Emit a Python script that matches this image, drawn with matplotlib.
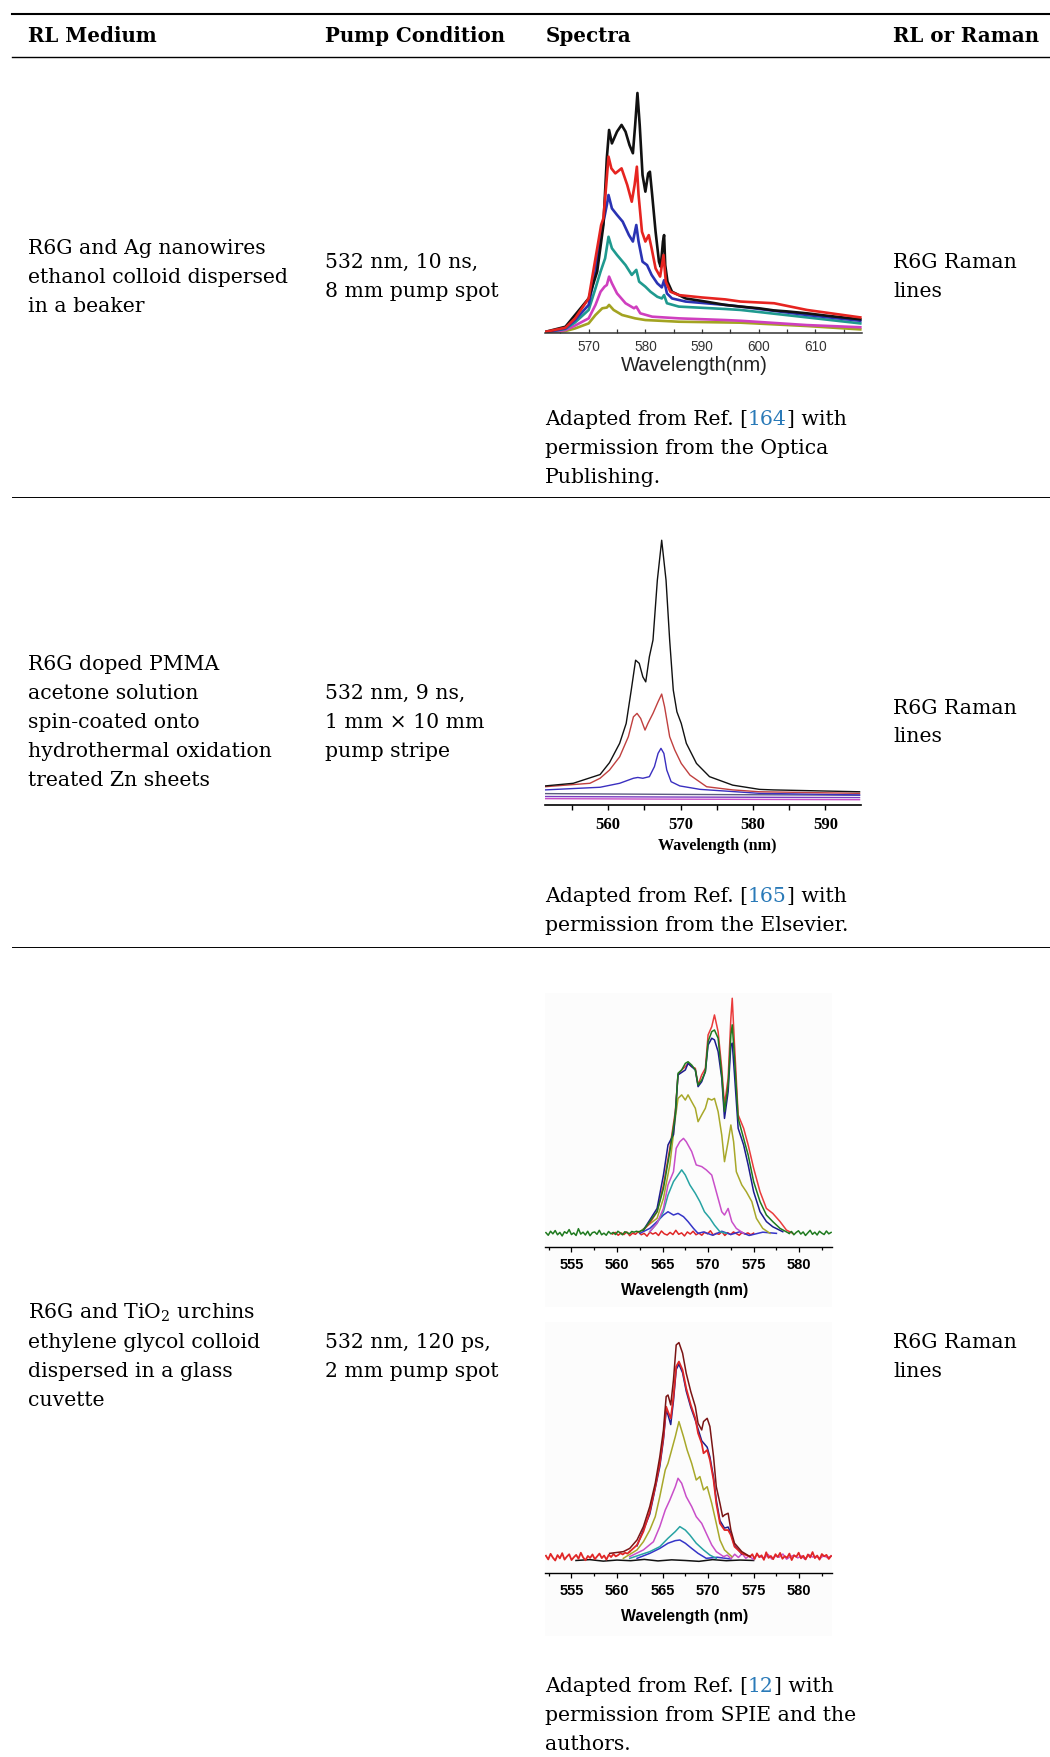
import numpy as np
import matplotlib
matplotlib.use("Agg")
import matplotlib.pyplot as plt
from matplotlib.ticker import MultipleLocator
from matplotlib.patches import Rectangle

plt.rcParams['font.family'] = 'DejaVu Serif'
plt.rcParams['mathtext.fontset'] = 'dejavuserif'

W, H = 1050, 1757
FS = 14.7
LINK = '#2a7ab8'

# ---------------- table text ----------------
headers = ["RL Medium", "Pump Condition", "Spectra", "RL or Raman"]
media = [
    ["R6G and Ag nanowires", "ethanol colloid dispersed", "in a beaker"],
    ["R6G doped PMMA", "acetone solution", "spin-coated onto",
     "hydrothermal oxidation", "treated Zn sheets"],
    ["R6G and TiO$_2$ urchins", "ethylene glycol colloid",
     "dispersed in a glass", "cuvette"],
]
pumps = [
    ["532 nm, 10 ns,", "8 mm pump spot"],
    ["532 nm, 9 ns,", "1 mm \u00d7 10 mm", "pump stripe"],
    ["532 nm, 120 ps,", "2 mm pump spot"],
]
kinds = [["R6G Raman", "lines"], ["R6G Raman", "lines"], ["R6G Raman", "lines"]]
refs = ["164", "165", "12"]
captions = [
    ["Adapted from Ref. [{}] with", "permission from the Optica", "Publishing."],
    ["Adapted from Ref. [{}] with", "permission from the Elsevier."],
    ["Adapted from Ref. [{}] with", "permission from SPIE and the", "authors."],
]

# ---------------- spectrum 1: Ag nanowires ----------------
ag_black_wl = [562.4, 565.9, 567.6, 570.0, 571.5, 572.6, 573.2, 573.6, 574.1, 575.0, 575.8,
               576.5, 577.2, 577.8, 578.2, 578.6, 579.0, 579.5, 580.0, 580.5, 580.8, 581.2,
               581.8, 582.4, 582.7, 583.1, 583.3, 583.5, 583.9, 584.7, 587.1, 590.6, 594.1,
               596.8, 600.0, 602.7, 605.0, 608.5, 612.0, 617.9]
ag_black_i = [0.5, 2.6, 7.5, 14.4, 25.6, 45.0, 72.8, 84.6, 79.0, 83.9, 86.7, 83.9, 78.3,
              74.9, 86.7, 100.0, 86.7, 65.8, 58.9, 66.5, 67.2, 57.5, 42.2, 29.7, 27.6, 38.1,
              40.8, 28.3, 21.4, 17.2, 14.4, 13.1, 11.7, 11.0, 10.3, 9.4, 9.0, 8.2, 7.2, 5.7]
ag_red_wl = [562.4, 565.9, 567.6, 570.0, 571.2, 571.8, 572.2, 572.6, 573.1, 573.5, 574.0,
             574.7, 575.8, 576.8, 577.6, 578.1, 578.5, 578.8, 579.4, 580.0, 580.6, 581.1,
             581.8, 582.6, 583.2, 583.6, 584.4, 585.9, 590.0, 594.1, 596.8, 602.7, 608.5, 617.9]
ag_red_i = [0.5, 2.2, 6.1, 14.4, 31.1, 39.4, 45.0, 47.8, 61.7, 73.5, 68.6, 66.5, 68.6, 61.7,
            54.7, 61.7, 69.3, 57.5, 42.2, 38.1, 40.8, 35.3, 26.9, 23.5, 32.5, 21.4, 17.2,
            15.8, 14.8, 14.0, 13.1, 12.4, 9.6, 6.5]
ag_blue_wl = [562.4, 565.9, 567.6, 570.0, 571.2, 571.8, 572.5, 573.2, 573.5, 574.1, 575.0,
              576.0, 577.1, 577.8, 578.4, 578.8, 579.5, 580.3, 581.1, 582.1, 582.9, 583.3,
              583.8, 584.7, 587.1, 594.1, 596.8, 608.5, 617.9]
ag_blue_i = [0.3, 1.9, 5.4, 11.7, 25.6, 36.7, 45.0, 53.3, 57.5, 51.9, 49.2, 46.4, 40.8,
             38.1, 45.0, 38.1, 29.7, 28.3, 24.2, 20.7, 19.0, 22.0, 16.5, 14.4, 13.1, 11.7,
             11.0, 7.5, 5.1]
ag_teal_wl = [562.4, 565.9, 567.6, 570.0, 571.2, 572.1, 572.9, 573.5, 574.1, 575.0, 576.5,
              577.6, 578.4, 578.9, 580.0, 580.9, 582.1, 582.9, 583.3, 583.8, 585.9, 594.1,
              596.8, 608.5, 617.9]
ag_teal_i = [0.3, 1.7, 4.4, 9.6, 18.6, 25.6, 31.1, 40.1, 35.3, 32.5, 28.3, 24.2, 26.3, 21.4,
             19.3, 17.2, 15.1, 14.4, 15.8, 12.4, 11.0, 10.0, 9.6, 6.5, 4.0]
ag_pink_wl = [562.4, 565.9, 567.6, 570.0, 571.2, 572.1, 572.8, 573.2, 573.6, 574.1, 575.0,
              576.5, 578.0, 578.4, 579.1, 581.2, 585.9, 594.1, 596.8, 608.5, 617.9]
ag_pink_i = [0.2, 1.2, 3.1, 6.1, 11.7, 17.2, 19.3, 20.0, 23.5, 20.7, 16.5, 12.4, 10.3, 11.0,
             8.2, 6.8, 6.1, 5.4, 5.1, 3.3, 2.4]
ag_olive_wl = [562.4, 565.9, 567.6, 570.0, 571.2, 572.4, 573.2, 573.6, 574.4, 575.9, 578.2,
               580.0, 585.9, 594.1, 596.8, 608.5, 617.9]
ag_olive_i = [0.1, 0.8, 1.9, 4.0, 7.5, 10.3, 10.6, 11.7, 9.6, 7.5, 6.1, 5.4, 4.7, 4.4, 4.3,
              2.9, 1.5]

# ---------------- spectrum 2: PMMA on Zn ----------------
zn_black_wl = [551.3, 555.2, 558.9, 560.2, 561.6, 562.5, 563.2, 563.8, 564.3, 564.8, 565.2,
               565.7, 566.2, 566.8, 567.4, 568.0, 568.5, 569.0, 569.5, 570.1, 570.8, 572.2,
               574.0, 577.2, 580.9, 582.8, 594.7]
zn_black_i = [7.2, 8.2, 11.5, 16.0, 23.3, 30.8, 43.4, 54.7, 53.5, 48.4, 46.5, 56.0, 62.3,
              84.9, 100.0, 84.9, 62.3, 43.4, 35.2, 30.8, 23.3, 15.7, 10.7, 7.5, 5.9, 5.7, 5.0]
zn_red_wl = [551.3, 557.5, 558.9, 560.2, 561.6, 562.8, 563.5, 564.0, 564.5, 565.1, 565.5,
             566.2, 566.9, 567.4, 567.8, 568.5, 569.2, 570.1, 571.3, 573.6, 577.2, 580.9, 594.7]
zn_red_i = [6.9, 8.2, 10.1, 13.2, 18.2, 25.8, 33.3, 34.6, 32.7, 28.3, 30.8, 34.6, 39.0,
            41.9, 37.1, 25.8, 20.8, 15.7, 11.3, 6.9, 5.7, 5.0, 4.4]
zn_blue_wl = [551.3, 558.9, 561.6, 563.5, 564.1, 564.8, 565.7, 566.4, 566.9, 567.3, 567.7,
              568.1, 568.7, 569.9, 572.7, 580.9, 594.7]
zn_blue_i = [5.7, 6.7, 8.2, 10.1, 10.4, 10.1, 10.7, 14.5, 19.5, 21.4, 19.5, 13.2, 8.8, 7.2,
             5.9, 4.4, 3.8]
zn_flat_wl = [551.3, 570.0, 594.7]
zn_slate_i = [4.3, 4.0, 3.7]
zn_violet_i = [3.2, 3.0, 2.8]
zn_magenta_i = [2.4, 2.2, 2.0]

# ---------------- spectrum 3a: TiO2 urchins ----------------
ti_red_wl = [562.9, 563.6, 564.4, 565.1, 565.8, 566.4, 566.7, 567.1, 567.5, 567.8, 568.2,
             568.6, 568.9, 569.3, 569.7, 570.0, 570.4, 570.7, 571.1, 571.5, 571.8, 572.2,
             572.5, 572.65, 572.9, 573.3, 573.9, 574.4, 575.0, 575.7, 576.4, 577.1, 577.9,
             578.6, 579.3]
ti_red_i = [1.4, 4.3, 9.2, 20.6, 36.2, 51.8, 67.4, 69.5, 70.9, 72.3, 70.9, 70.2, 63.1, 67.4,
            70.2, 84.4, 87.9, 92.9, 85.8, 70.2, 54.6, 66.0, 91.5, 100.0, 80.1, 50.4, 44.7,
            37.6, 27.7, 17.7, 10.6, 8.5, 5.0, 1.4, 0.0]
ti_green_wl = [562.9, 564.4, 565.1, 565.8, 566.4, 566.7, 567.1, 567.5, 567.8, 568.2, 568.6,
               568.9, 569.3, 569.7, 570.0, 570.4, 570.7, 571.1, 571.5, 571.8, 572.2, 572.5,
               572.65, 572.9, 573.3, 573.9, 574.4, 575.0, 575.7, 576.4, 577.1, 577.9, 578.9]
ti_green_i = [1.4, 9.2, 19.1, 34.8, 50.4, 68.1, 69.5, 72.3, 73.0, 71.6, 69.5, 63.1, 65.2,
              68.8, 81.6, 85.8, 86.5, 83.0, 67.4, 51.8, 63.1, 84.4, 88.7, 74.5, 48.9, 40.4,
              33.3, 22.0, 13.5, 7.8, 5.0, 2.1, 0.0]
ti_green_left = [0.3, -0.8, 0.9, -0.2, 1.2, -0.6, 0.4, -1.1, 0.7, 0.0, 1.6, -0.5, 0.2, -0.9,
                 2.0, -0.3, 0.5, -0.7, 0.9, -1.0, 0.3, 0.6, -0.4, 1.3, -0.6, 0.1, -0.8, 0.8,
                 -0.2, 0.4, -0.5, 0.9, 0.2, -0.6, 0.7, 0.3, -0.2, 0.8, 0.5, 0.9, 0.6, 1.1, 1.4]
ti_green_right = [0.0, 0.8, -0.6, 0.4, 1.1, -0.3, 0.6, -0.9, 0.2, 1.3, -0.4, 0.5, -0.7, 0.9,
                  0.1, -0.5, 1.0, -0.2, 0.4]
ti_navy_wl = [562.9, 564.4, 565.1, 565.6, 566.2, 566.4, 566.7, 567.5, 567.8, 568.6, 568.9,
              569.3, 569.7, 570.0, 570.4, 570.7, 571.1, 571.5, 571.8, 572.2, 572.5, 572.65,
              572.9, 573.3, 573.9, 574.4, 575.0, 575.7, 576.4, 577.1, 578.2]
ti_navy_i = [1.4, 10.6, 24.8, 37.6, 42.0, 50.4, 67.4, 69.5, 72.3, 69.5, 62.4, 64.5, 68.8,
             80.1, 83.0, 82.3, 77.3, 66.0, 48.9, 60.3, 80.1, 80.9, 67.4, 44.7, 37.6, 29.1,
             17.7, 9.2, 5.0, 2.8, 0.7]
ti_olive_wl = [562.5, 564.4, 565.1, 565.8, 566.4, 566.7, 567.1, 567.5, 567.8, 568.2, 568.6,
               568.9, 569.3, 569.7, 570.0, 570.4, 570.7, 571.1, 571.5, 571.8, 572.2, 572.5,
               572.8, 573.1, 573.7, 574.2, 574.8, 575.3, 576.0, 576.8]
ti_olive_i = [0.7, 6.4, 14.9, 29.1, 48.9, 57.4, 58.9, 56.7, 58.9, 56.0, 53.2, 47.5, 50.4,
              53.2, 57.4, 56.7, 57.4, 51.8, 41.8, 30.5, 39.0, 46.1, 39.0, 26.2, 20.6, 17.7,
              13.5, 6.4, 2.1, 0.0]
ti_magenta_wl = [563.6, 564.4, 565.1, 565.6, 566.2, 566.5, 566.9, 567.3, 567.6, 568.2, 568.7,
                 569.3, 569.8, 570.4, 570.9, 571.5, 571.8, 572.2, 572.6, 573.1, 573.9]
ti_magenta_i = [0.7, 4.3, 10.6, 20.6, 26.2, 36.2, 39.0, 40.4, 39.0, 34.8, 29.1, 28.4, 27.0,
                24.8, 17.7, 9.2, 7.8, 10.6, 5.0, 2.1, 0.0]
ti_teal_wl = [563.6, 564.4, 565.1, 565.6, 566.2, 566.7, 567.1, 567.5, 568.0, 568.6, 569.1,
              569.6, 570.2, 570.7, 571.3, 572.0]
ti_teal_i = [0.7, 4.3, 9.2, 16.3, 22.0, 24.8, 27.0, 24.8, 20.6, 17.0, 13.5, 9.2, 6.4, 3.5,
             0.7, 0.0]
ti_blue_wl = [562.5, 563.6, 564.4, 565.1, 565.6, 566.2, 566.7, 567.3, 567.8, 568.4, 568.9,
              569.5, 570.5, 571.5, 572.5, 573.5, 574.5, 576.0, 577.5]
ti_blue_i = [0.0, 2.1, 5.0, 7.8, 9.2, 7.8, 8.5, 7.1, 5.0, 2.1, 0.0, 0.6, -0.8, 0.9, -0.5,
             0.7, -0.9, 0.5, 0.0]
ti_redflat_i = [-0.3, 0.4, -0.8, 0.2, -0.5, 0.6, -1.0, 0.1, -0.4, 0.8, -0.6, 0.0, -1.2, 0.5,
                -0.3, 0.3, -0.9, 1.0, -0.2, -0.7, 0.4, -0.5, 1.3, -0.4, 0.2, -1.1, 0.6, -0.3,
                0.9, -0.6, 0.1, -0.8, 0.5, -0.2, 1.1, -0.7, 0.0, -0.4, 0.7, -0.9, 0.3, -0.5,
                0.6, -0.1, -0.8, 0.4, -0.3, 0.2, -0.6, 0.1]

# ---------------- spectrum 3b: TiO2 urchins, second set ----------------
tb_maroon_wl = [559.2, 560.7, 561.4, 562.2, 562.9, 563.6, 564.2, 564.7, 565.1, 565.4, 565.6,
                565.9, 566.2, 566.5, 566.8, 567.2, 567.6, 568.1, 568.6, 568.9, 569.3, 569.5,
                569.9, 570.2, 570.6, 570.9, 571.3, 571.6, 571.8, 572.2, 572.5, 572.9, 573.7,
                574.6]
tb_maroon_i = [2.3, 3.1, 4.6, 8.5, 14.7, 24.0, 34.8, 47.1, 59.5, 75.0, 75.7, 71.1, 82.7,
               98.9, 100.0, 95.1, 85.8, 77.3, 70.3, 62.6, 59.5, 63.4, 64.9, 61.1, 47.1, 33.2,
               25.5, 19.3, 20.1, 20.9, 13.1, 7.0, 3.1, 0.8]
tb_red_wl = [561.4, 562.2, 562.9, 563.6, 564.2, 564.7, 565.1, 565.4, 565.6, 565.9, 566.2,
             566.5, 566.8, 567.2, 567.6, 568.1, 568.6, 568.9, 569.3, 569.5, 569.9, 570.2,
             570.6, 570.9, 571.3, 571.8, 572.2, 572.5, 572.9, 573.7, 574.6]
tb_red_i = [3.1, 6.2, 12.4, 21.6, 33.2, 44.0, 56.4, 70.3, 68.0, 64.9, 75.0, 88.9, 91.2,
            87.3, 78.8, 71.1, 64.9, 58.0, 53.3, 48.7, 50.2, 45.6, 36.3, 25.5, 16.2, 13.1,
            13.1, 10.8, 5.4, 2.3, 0.8]
tb_red_left = [1.2, -0.5, 2.1, 0.3, -1.0, 1.5, 0.0, 2.4, -0.6, 0.8, 1.9, -0.8, 0.5, 1.6,
               -0.2, 2.6, 0.4, -0.9, 1.1, 0.2, 1.8, -0.4, 0.9, 2.2, 0.1, 1.3, -0.6, 1.7, 0.6,
               2.0, 0.9, 1.5, 2.4, 1.8, 2.6, 2.2, 3.1]
tb_red_right = [0.8, 1.9, -0.3, 2.3, 0.5, 1.4, -0.7, 2.8, 0.2, 1.1, -0.4, 1.9, 0.6, 2.5,
                -0.2, 1.0, 0.3, 2.2, -0.8, 1.4, 0.7, 2.6, 0.0, 1.2, -0.5, 1.8, 0.4, 2.9, 0.1,
                1.3, -0.6, 2.0, 0.9, 1.6, -0.3, 1.1]
tb_navy_wl = [562.2, 563.6, 564.7, 565.1, 565.4, 565.6, 565.9, 566.2, 566.5, 566.8, 567.2,
              567.6, 568.1, 568.6, 569.3, 569.9, 570.2, 570.6, 570.9, 571.3, 571.8, 572.2,
              572.5, 572.9, 573.7]
tb_navy_i = [5.8, 20.5, 42.5, 55.0, 68.5, 66.5, 62.0, 73.0, 87.5, 90.0, 86.0, 77.5, 70.0,
             64.0, 54.5, 51.5, 47.0, 37.5, 27.0, 17.5, 14.0, 14.5, 11.5, 6.0, 2.0]
tb_olive_wl = [560.7, 562.2, 562.9, 563.6, 564.2, 564.7, 565.3, 565.6, 566.0, 566.4, 566.8,
               567.3, 567.7, 568.2, 568.7, 569.1, 569.5, 569.9, 570.4, 570.9, 571.3, 571.8,
               572.6]
tb_olive_i = [0.0, 3.9, 7.7, 13.1, 19.3, 28.6, 41.0, 44.0, 50.2, 56.4, 63.4, 56.4, 50.2,
              44.0, 36.3, 37.9, 31.7, 33.2, 25.5, 16.2, 8.5, 3.9, 0.8]
tb_magenta_wl = [561.4, 562.9, 564.0, 564.7, 565.3, 565.8, 566.4, 566.7, 567.1, 567.6, 568.2,
                 568.7, 569.3, 569.8, 570.4, 570.9, 571.7]
tb_magenta_i = [0.8, 3.9, 7.7, 14.7, 22.4, 27.0, 33.2, 37.1, 34.8, 28.6, 24.0, 19.3, 16.2,
                11.6, 6.2, 3.1, 0.8]
tb_magenta_right = [0.8, 1.5, -0.2, 1.9, 0.4, 2.2, 0.0, 1.2, -0.6, 1.6, 0.7, 0.1, 1.8, -0.3,
                    1.0, 0.5, 2.0, -0.4, 0.8, 1.4, 0.2, 1.1, -0.5, 1.7, 0.6, 0.9, -0.1, 1.3,
                    0.3, 1.0]
tb_teal_wl = [561.4, 563.6, 564.7, 565.6, 566.4, 566.9, 567.5, 568.0, 568.7, 569.5, 570.2,
              570.9]
tb_teal_i = [0.0, 3.1, 5.4, 9.3, 12.4, 14.7, 13.1, 10.8, 7.0, 3.9, 1.5, 0.0]
tb_blue_wl = [562.2, 563.6, 564.7, 565.6, 566.4, 566.9, 567.5, 568.2, 568.9, 569.8, 571.0,
              572.5]
tb_blue_i = [0.0, 2.3, 4.6, 7.0, 8.2, 8.5, 7.0, 4.6, 2.3, 0.0, 0.5, -0.3]
tb_black_wl = [555.5, 557.0, 558.5, 560.0, 561.5, 563.0, 564.5, 566.0, 567.5, 569.0, 570.5,
               572.0, 573.5, 575.0]
tb_black_i = [-1.0, -0.6, -1.3, -0.8, -1.1, -0.5, -1.2, -0.7, -1.0, -1.4, -0.6, -1.1, -0.8,
              -1.0]


fig = plt.figure(figsize=(W / 100, H / 100), dpi=100)
bg = fig.add_axes([0, 0, 1, 1])
bg.set_xlim(0, W)
bg.set_ylim(H, 0)
bg.axis('off')

# faint backdrop of the two scanned spectra in the last row
for y0, y1 in ((993, 1307), (1322, 1636)):
    bg.add_patch(Rectangle((545, y0), 287, y1 - y0, color='#fcfcfc', lw=0))

# rules of the table
bg.plot([12, W], [13.5, 13.5], color='black', lw=1.5)
bg.plot([12, W], [56.5, 56.5], color='black', lw=1.0)
for y in (496.5, 947):
    bg.plot([12, W], [y, y], color='black', lw=0.7)

col_x = [28, 325, 546, 893]
for x, h in zip(col_x, headers):
    bg.text(x, 41.5, h, fontsize=14.3, fontweight='bold', va='baseline')

LS = 28.9
row_mid = [282.6, 728.0, 1362.5]


def block(x, mid, lines):
    n = len(lines)
    for k, s in enumerate(lines):
        bg.text(x, mid + (k - (n - 1) / 2) * LS, s, fontsize=FS, va='baseline')


for mid, med, pump, kind in zip(row_mid, media, pumps, kinds):
    block(col_x[0], mid, med)
    block(col_x[1], mid, pump)
    block(col_x[3], mid, kind)

renderer = fig.canvas.get_renderer()
cap_top = [425.0, 902.0, 1692.0]
for y0, ref, cap in zip(cap_top, refs, captions):
    head, tail = cap[0].split("{}")
    x = 545
    for s, c in ((head, 'black'), (ref, LINK), (tail, 'black')):
        t = bg.text(x, y0, s, fontsize=FS, va='baseline', color=c)
        x += t.get_window_extent(renderer=renderer).width
    for k, s in enumerate(cap[1:], start=1):
        bg.text(545, y0 + k * LS, s, fontsize=FS, va='baseline')


def spec_axes(left, top, right, bottom):
    ax = fig.add_axes([left / W, 1 - bottom / H, (right - left) / W, (bottom - top) / H])
    ax.set_facecolor('none')
    for side in ('top', 'right', 'left'):
        ax.spines[side].set_visible(False)
    ax.set_yticks([])
    return ax


# spectrum 1
ax1 = spec_axes(545, 81, 862, 333)
sans = 'Liberation Sans'
for wl, inten, col in ((ag_olive_wl, ag_olive_i, '#a3a321'), (ag_pink_wl, ag_pink_i, '#cf3fbf'),
                       (ag_teal_wl, ag_teal_i, '#1f9a8f'), (ag_blue_wl, ag_blue_i, '#2a33b3'),
                       (ag_black_wl, ag_black_i, '#111111'), (ag_red_wl, ag_red_i, '#e62420')):
    ax1.plot(wl, inten, color=col, lw=1.9, solid_joinstyle='round')
ax1.set_xlim(562.3, 618.2)
ax1.set_ylim(0, 105)
ax1.xaxis.set_major_locator(MultipleLocator(10))
ax1.xaxis.set_minor_locator(MultipleLocator(5))
ax1.tick_params(axis='x', which='both', direction='in', length=3, width=0.9, pad=5.0,
                labelsize=9.8, colors='#333333')
ax1.spines['bottom'].set_linewidth(1.1)
ax1.spines['bottom'].set_color('#333333')
for lab in ax1.get_xticklabels():
    lab.set_family(sans)
ax1.set_xlabel("Wavelength(nm)", family=sans, fontsize=14.5, labelpad=1.5, color='#222222')
ax1.xaxis.label.set_x(0.4725)

# spectrum 2
ax2 = spec_axes(545, 527, 861, 805)
serif = 'Liberation Serif'
ax2.plot(zn_flat_wl, zn_magenta_i, color='#c64cc6', lw=1.0)
ax2.plot(zn_flat_wl, zn_violet_i, color='#7b3cc0', lw=1.0)
ax2.plot(zn_flat_wl, zn_slate_i, color='#5c5c80', lw=1.0)
ax2.plot(zn_blue_wl, zn_blue_i, color='#3a2fc0', lw=1.0)
ax2.plot(zn_red_wl, zn_red_i, color='#c0403f', lw=1.0)
ax2.plot(zn_black_wl, zn_black_i, color='#111111', lw=1.0)
ax2.set_xlim(551.3, 594.9)
ax2.set_ylim(0, 105)
ax2.xaxis.set_major_locator(MultipleLocator(10))
ax2.xaxis.set_minor_locator(MultipleLocator(5))
ax2.tick_params(axis='x', which='both', direction='out', length=3.6, width=1.0, pad=5.0,
                labelsize=12)
ax2.spines['bottom'].set_linewidth(1.2)
for lab in ax2.get_xticklabels():
    lab.set_family(serif)
    lab.set_fontweight('bold')
ax2.set_xlabel("Wavelength (nm)", family=serif, fontweight='bold', fontsize=11.6, labelpad=3.3)
ax2.xaxis.label.set_x(0.545)


def ti_axes(top, bottom, ylo):
    ax = spec_axes(545, top, 832, bottom)
    ax.set_xlim(552.1, 583.6)
    ax.set_ylim(ylo, 105)
    ax.xaxis.set_major_locator(MultipleLocator(5))
    ax.xaxis.set_minor_locator(MultipleLocator(2.5))
    ax.tick_params(axis='x', which='major', length=3.4)
    ax.tick_params(axis='x', which='minor', length=2.4)
    ax.tick_params(axis='x', which='both', direction='out', width=0.9, pad=4.4,
                   labelsize=10.5)
    ax.spines['bottom'].set_linewidth(1.0)
    for lab in ax.get_xticklabels():
        lab.set_family(sans)
        lab.set_fontweight('bold')
    ax.set_xlabel("Wavelength (nm)", family=sans, fontweight='bold', fontsize=11.4,
                  labelpad=8.0)
    ax.xaxis.label.set_x(0.487)
    return ax


# spectrum 3a
ax3 = ti_axes(986.5, 1247, -5.8)
lw3 = 1.1
ax3.plot(np.linspace(559.5, 575.0, len(ti_redflat_i)), ti_redflat_i, color='#e02626', lw=lw3)
ax3.plot(ti_blue_wl, ti_blue_i, color='#3535c8', lw=lw3)
ax3.plot(ti_teal_wl, ti_teal_i, color='#27a3a3', lw=lw3)
ax3.plot(ti_magenta_wl, ti_magenta_i, color='#c94fc9', lw=lw3)
ax3.plot(ti_olive_wl, ti_olive_i, color='#a8a82a', lw=lw3)
ax3.plot(ti_red_wl, ti_red_i, color='#ea3b3b', lw=lw3)
ax3.plot(ti_navy_wl, ti_navy_i, color='#1c1c8e', lw=lw3)
ax3.plot(ti_green_wl, ti_green_i, color='#1f7a1f', lw=lw3)
ax3.plot(np.linspace(552.2, 562.9, len(ti_green_left)), ti_green_left, color='#1f7a1f', lw=lw3)
ax3.plot(np.linspace(578.9, 583.5, len(ti_green_right)), ti_green_right, color='#1f7a1f', lw=lw3)

# spectrum 3b
ax4 = ti_axes(1331.8, 1573, -6.8)
ax4.plot(tb_black_wl, tb_black_i, color='#111111', lw=lw3)
ax4.plot(tb_blue_wl, tb_blue_i, color='#3535c8', lw=lw3)
ax4.plot(tb_teal_wl, tb_teal_i, color='#27a3a3', lw=lw3)
ax4.plot(tb_magenta_wl, tb_magenta_i, color='#c94fc9', lw=lw3)
ax4.plot(np.linspace(571.7, 583.5, len(tb_magenta_right)), tb_magenta_right, color='#c94fc9', lw=lw3)
ax4.plot(tb_olive_wl, tb_olive_i, color='#a8a82a', lw=lw3)
ax4.plot(tb_navy_wl, tb_navy_i, color='#1c1c8e', lw=lw3)
ax4.plot(tb_red_wl, tb_red_i, color='#e02626', lw=1.3)
ax4.plot(np.linspace(552.2, 561.4, len(tb_red_left)), tb_red_left, color='#e02626', lw=1.3)
ax4.plot(np.linspace(574.6, 583.5, len(tb_red_right)), tb_red_right, color='#e02626', lw=1.3)
ax4.plot(tb_maroon_wl, tb_maroon_i, color='#7a1414', lw=lw3)

fig.savefig('out.png', dpi=100)
